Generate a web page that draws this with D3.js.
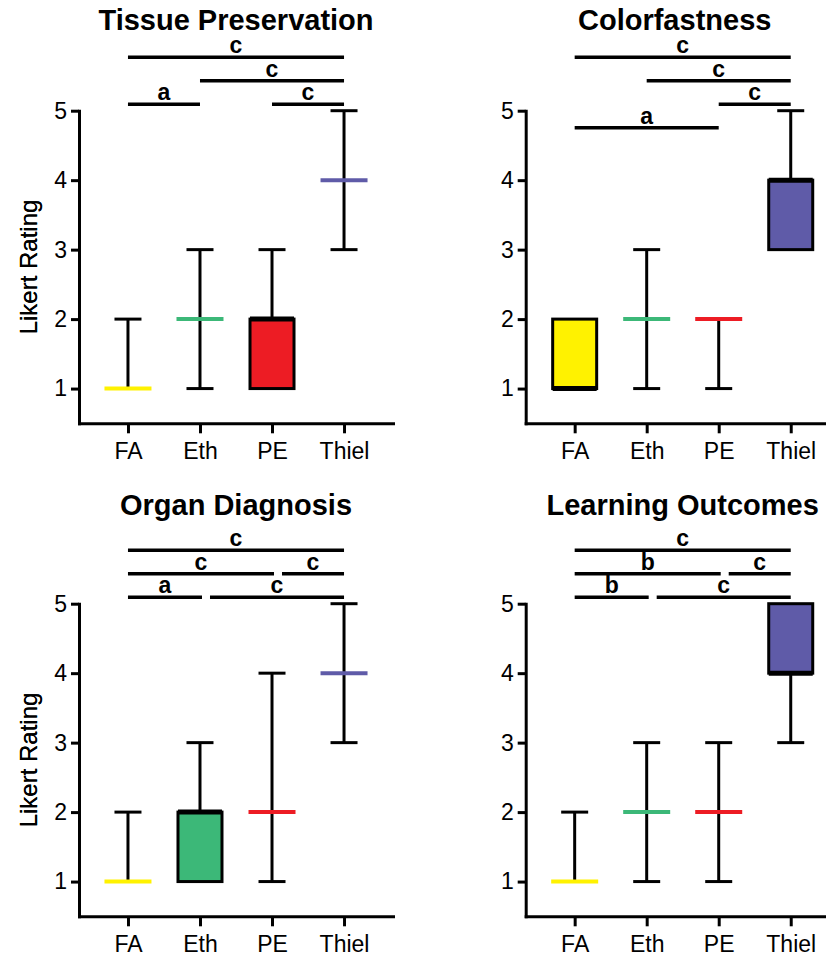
<!DOCTYPE html>
<html lang="en">
<head>
<meta charset="utf-8">
<title>Likert ratings</title>
<script src="https://d3js.org/d3.v7.min.js"></script>
<style>
  body { margin: 0; background: #fff; }
  svg { display: block; font-family: "Liberation Sans", Arial, sans-serif; }
  .title { font-size: 29px; font-weight: bold; }
  .sig { font-size: 23px; font-weight: bold; }
  .axis path, .axis line { stroke: #000; stroke-width: 3px; }
  .axis path { stroke-linecap: square; }
  .axis text { font-size: 23px; fill: #000; }
  .xaxis text { font-size: 23px; }
  .ylabel { font-size: 24px; }
</style>
</head>
<body>
<svg width="826" height="955"></svg>
<script>
// categories and colours
const cats = ["FA", "Eth", "PE", "Thiel"];
const catColors = ["#fff200", "#3cb878", "#ed1c24", "#5f5ba8"];
const yTicks = [1, 2, 3, 4, 5];
const titles = ["Tissue Preservation", "Colorfastness", "Organ Diagnosis", "Learning Outcomes"];

// [min, q1, median, q3, max] for each category
const tissueStats   = [[1, 1, 1, 1, 2], [1, 2, 2, 2, 3], [1, 1, 2, 2, 3], [3, 4, 4, 4, 5]];
const colorStats    = [[1, 1, 1, 2, 2], [1, 2, 2, 2, 3], [1, 2, 2, 2, 2], [3, 3, 4, 4, 5]];
const organStats    = [[1, 1, 1, 1, 2], [1, 1, 2, 2, 3], [1, 2, 2, 2, 4], [3, 4, 4, 4, 5]];
const learningStats = [[1, 1, 1, 1, 2], [1, 2, 2, 2, 3], [1, 2, 2, 2, 3], [3, 4, 4, 5, 5]];

// significance brackets: [from, to, letter, row]
const tissueSig   = [["FA", "Thiel", "c", 3], ["Eth", "Thiel", "c", 2], ["PE", "Thiel", "c", 1], ["FA", "Eth", "a", 1]];
const colorSig    = [["FA", "Thiel", "c", 3], ["Eth", "Thiel", "c", 2], ["PE", "Thiel", "c", 1], ["FA", "PE", "a", 0]];
const organSig    = [["FA", "Thiel", "c", 3], ["FA", "PE", "c", 2], ["PE", "Thiel", "c", 2], ["FA", "Eth", "a", 1], ["Eth", "Thiel", "c", 1]];
const learningSig = [["FA", "Thiel", "c", 3], ["FA", "PE", "b", 2], ["PE", "Thiel", "c", 2], ["FA", "Eth", "b", 1], ["Eth", "Thiel", "c", 1]];

const svg = d3.select("svg");

// panel layout
const panels = [
  {title: titles[0], stats: tissueStats,   sig: tissueSig,   x0: 79,    top: 110.7, titleY: 30,  titleDx: 0},
  {title: titles[1], stats: colorStats,    sig: colorSig,    x0: 525.7, top: 110.7, titleY: 30,  titleDx: -8},
  {title: titles[2], stats: organStats,    sig: organSig,    x0: 79,    top: 603.7, titleY: 515, titleDx: 0},
  {title: titles[3], stats: learningStats, sig: learningSig, x0: 525.7, top: 603.7, titleY: 515, titleDx: 0}
];

const plotW = 314, plotH = 312.6;
const boxW = 44, medW = 47, capW = 27;

panels.forEach(p => {
  const g = svg.append("g");

  const x = d3.scalePoint().domain(cats).range([p.x0, p.x0 + plotW]).padding(0.68);
  const y = d3.scaleLinear().domain([0.5, 5]).range([p.top + plotH, p.top]);

  // axes
  g.append("g").attr("class", "axis")
    .attr("transform", "translate(" + p.x0 + ",0)")
    .call(d3.axisLeft(y).tickValues(yTicks).tickFormat(d3.format("d")).tickSize(8).tickSizeOuter(0).tickPadding(4));
  g.append("g").attr("class", "axis xaxis")
    .attr("transform", "translate(0," + y(0.5) + ")")
    .call(d3.axisBottom(x).tickSize(10).tickSizeOuter(0).tickPadding(9));

  g.append("text").attr("class", "ylabel")
    .attr("text-anchor", "middle")
    .attr("transform", "translate(37," + (p.top + plotH / 2) + ") rotate(-90)")
    .text("Likert Rating");

  g.append("text").attr("class", "title")
    .attr("x", p.x0 + plotW / 2 + p.titleDx).attr("y", p.titleY)
    .attr("text-anchor", "middle")
    .text(p.title);

  // boxes
  p.stats.forEach((s, i) => {
    const cx = x(cats[i]);
    const [mn, q1, md, q3, mx] = s;
    const b = g.append("g");
    if (mn < q1) {
      b.append("line").attr("x1", cx).attr("x2", cx).attr("y1", y(mn)).attr("y2", y(q1))
        .attr("stroke", "#000").attr("stroke-width", 3);
      b.append("line").attr("x1", cx - capW / 2).attr("x2", cx + capW / 2).attr("y1", y(mn)).attr("y2", y(mn))
        .attr("stroke", "#000").attr("stroke-width", 3);
    }
    if (mx > q3) {
      b.append("line").attr("x1", cx).attr("x2", cx).attr("y1", y(q3)).attr("y2", y(mx))
        .attr("stroke", "#000").attr("stroke-width", 3);
      b.append("line").attr("x1", cx - capW / 2).attr("x2", cx + capW / 2).attr("y1", y(mx)).attr("y2", y(mx))
        .attr("stroke", "#000").attr("stroke-width", 3);
    }
    if (q1 < q3) {
      b.append("rect").attr("x", cx - boxW / 2).attr("width", boxW)
        .attr("y", y(q3)).attr("height", y(q1) - y(q3))
        .attr("fill", catColors[i]).attr("stroke", "#000").attr("stroke-width", 3);
      b.append("line").attr("x1", cx - boxW / 2).attr("x2", cx + boxW / 2).attr("y1", y(md)).attr("y2", y(md))
        .attr("stroke", "#000").attr("stroke-width", 5);
    } else {
      b.append("line").attr("x1", cx - medW / 2).attr("x2", cx + medW / 2).attr("y1", y(md)).attr("y2", y(md))
        .attr("stroke", catColors[i]).attr("stroke-width", 4);
    }
  });

  // significance brackets
  const rowY = r => y(5) + 17 - r * 23.5;
  p.sig.forEach(([a, b, lab, row]) => {
    let x1 = x(a), x2 = x(b);
    // brackets sharing an end on the same row leave a gap
    if (p.sig.some(o => o[3] === row && o[1] === a)) x1 += 10;
    if (p.sig.some(o => o[3] === row && o[0] === b)) x2 += 2;
    g.append("line").attr("x1", x1).attr("x2", x2).attr("y1", rowY(row)).attr("y2", rowY(row))
      .attr("stroke", "#000").attr("stroke-width", 3.5);
    g.append("text").attr("class", "sig")
      .attr("x", (x1 + x2) / 2).attr("y", rowY(row) - 4)
      .attr("text-anchor", "middle")
      .text(lab);
  });
});
</script>
</body>
</html>
